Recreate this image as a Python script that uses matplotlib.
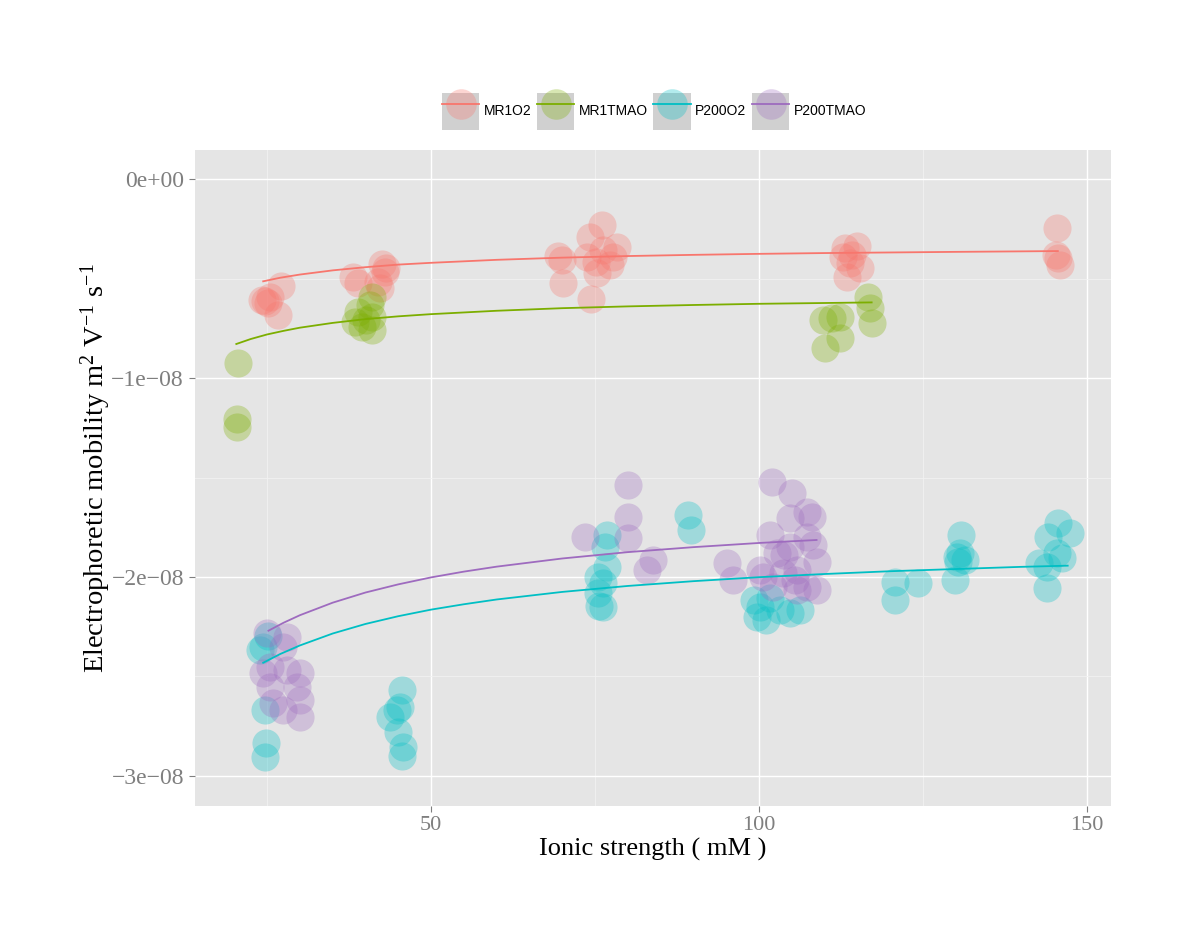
import matplotlib
matplotlib.use("Agg")
import matplotlib.pyplot as plt
from matplotlib.lines import Line2D
from matplotlib.patches import Rectangle
from matplotlib.legend_handler import HandlerTuple
from matplotlib.colors import to_rgba

plt.rcParams['font.family'] = ['Liberation Serif', 'DejaVu Serif']
plt.rcParams['mathtext.fontset'] = 'custom'
plt.rcParams['mathtext.rm'] = 'Liberation Serif'
plt.rcParams['mathtext.it'] = 'Liberation Serif:italic'
plt.rcParams['mathtext.default'] = 'regular'

# y values in units of 1e-08 m2/(V s)
SCALE = 1e-8

groups = ["MR1O2", "MR1TMAO", "P200O2", "P200TMAO"]
colors = ["#F8766D", "#7CAE00", "#00BFC4", "#9E6BBF"]

# points: ionic strength (mM) and mobility
mr1o2_x = [24.7, 25.2, 24.2, 27.1, 26.7, 25.5,
           38.1, 38.9, 42.5, 43.0, 41.9, 43.1, 42.2,
           70.0, 69.4, 76.1, 70.1, 74.4, 74.2, 76.2, 77.7, 75.3, 78.4, 77.3, 73.8, 75.2,
           113.1, 114.9, 113.9, 113.4, 115.4, 112.8, 114.2,
           145.4, 145.6, 145.9, 145.3]
mr1o2_y = [-0.613, -0.623, -0.608, -0.538, -0.683, -0.593,
           -0.492, -0.523, -0.427, -0.467, -0.518, -0.447, -0.548,
           -0.407, -0.387, -0.231, -0.523, -0.603, -0.291, -0.357, -0.392, -0.472, -0.342, -0.432, -0.392, -0.417,
           -0.347, -0.337, -0.422, -0.492, -0.447, -0.392, -0.382,
           -0.246, -0.397, -0.432, -0.382]

mr1tmao_x = [20.5, 20.4, 20.4,
             41.0, 40.7, 38.9, 41.0, 39.5, 41.0, 38.4, 40.1,
             109.8, 112.3, 112.3, 110.1, 116.6, 116.9, 117.2, 111.1]
mr1tmao_y = [-0.926, -1.206, -1.246,
             -0.593, -0.633, -0.668, -0.693, -0.744, -0.759, -0.719, -0.709,
             -0.709, -0.693, -0.799, -0.849, -0.593, -0.648, -0.724, -0.698]

p200o2_x = [24.4, 23.9, 25.2, 24.7, 24.8, 24.7,
            45.6, 44.8, 45.3, 43.8, 45.0, 45.7, 45.6,
            76.8, 76.5, 76.8, 75.5, 76.2, 75.5, 76.2, 75.6,
            89.2, 89.7,
            99.2, 100.2, 99.7, 101.1, 103.2, 104.7, 106.3, 101.7,
            120.7, 120.7, 124.2,
            130.9, 130.2, 130.3, 129.9, 131.4, 130.6,
            145.6, 147.4, 144.1, 145.4, 142.8, 143.9, 143.9, 146.3]
p200o2_y = [-2.350, -2.367, -2.296, -2.668, -2.834, -2.905,
            -2.568, -2.668, -2.653, -2.704, -2.779, -2.854, -2.899,
            -1.789, -1.849, -1.950, -2.000, -2.030, -2.080, -2.151, -2.146,
            -1.688, -1.764,
            -2.116, -2.151, -2.201, -2.216, -2.166, -2.181, -2.166, -2.106,
            -2.025, -2.116, -2.030,
            -1.789, -1.899, -1.925, -2.015, -1.915, -1.879,
            -1.729, -1.779, -1.799, -1.879, -1.930, -1.950, -2.055, -1.905]

p200tmao_x = [25.0, 28.0, 27.4, 25.5, 28.0, 30.0, 25.5, 29.6, 25.9, 30.0, 30.0, 27.4, 24.4,
              73.5, 80.0, 80.0, 80.0, 83.8, 82.9, 95.1, 96.0,
              102.0, 105.0, 107.3, 104.7, 108.1, 101.7, 107.3, 108.2, 104.7, 108.8, 102.7,
              100.6, 103.7, 105.8, 108.8, 105.8, 102.1, 100.2, 107.3, 103.9, 105.5]
p200tmao_y = [-2.281, -2.302, -2.352, -2.452, -2.467, -2.482, -2.553, -2.553, -2.633, -2.618, -2.704, -2.668, -2.482,
              -1.799, -1.538, -1.698, -1.804, -1.915, -1.965, -1.930, -2.015,
              -1.523, -1.578, -1.673, -1.704, -1.698, -1.789, -1.799, -1.839, -1.849, -1.925, -1.879,
              -2.000, -1.980, -1.965, -2.065, -2.065, -2.050, -1.965, -2.050, -1.889, -2.015]

# fitted curves
mr1o2_fit_x = [24.4, 27, 30, 35, 40, 45, 50, 60, 70, 80, 90, 100, 110, 120, 130, 145.6]
mr1o2_fit_y = [-0.514, -0.496, -0.480, -0.459, -0.443, -0.430, -0.421, -0.406, -0.395, -0.387,
               -0.381, -0.376, -0.372, -0.369, -0.366, -0.362]
mr1tmao_fit_x = [20.3, 22.5, 25, 27.5, 30, 35, 40, 45, 50, 60, 70, 80, 90, 100, 110, 117.2]
mr1tmao_fit_y = [-0.829, -0.804, -0.781, -0.763, -0.747, -0.723, -0.704, -0.690, -0.679, -0.662,
                 -0.649, -0.640, -0.633, -0.627, -0.623, -0.620]
p200o2_fit_x = [24.4, 27, 30, 35, 40, 45, 50, 55, 60, 70, 80, 90, 100, 110, 120, 130, 140, 147.1]
p200o2_fit_y = [-2.431, -2.387, -2.344, -2.284, -2.236, -2.197, -2.164, -2.137, -2.113, -2.075,
                -2.045, -2.021, -2.001, -1.985, -1.971, -1.960, -1.949, -1.943]
p200tmao_fit_x = [25.2, 27.5, 30, 35, 40, 45, 50, 55, 60, 70, 80, 90, 100, 108.8]
p200tmao_fit_y = [-2.270, -2.230, -2.192, -2.129, -2.078, -2.037, -2.002, -1.973, -1.948, -1.907,
                  -1.875, -1.850, -1.829, -1.814]

xticks = [50, 100, 150]
xminor = [25, 75, 125]
yticks = [-3, -2, -1, 0]
yminor = [-2.5, -1.5, -0.5]
ytick_labels = ["\u22123e\u221208", "\u22122e\u221208", "\u22121e\u221208", "0e+00"]

pts = [(mr1o2_x, mr1o2_y), (mr1tmao_x, mr1tmao_y), (p200o2_x, p200o2_y), (p200tmao_x, p200tmao_y)]
fits = [(mr1o2_fit_x, mr1o2_fit_y), (mr1tmao_fit_x, mr1tmao_fit_y),
        (p200o2_fit_x, p200o2_fit_y), (p200tmao_fit_x, p200tmao_fit_y)]

fig = plt.figure(figsize=(12, 9.27), dpi=100)
ax = fig.add_axes([0.1625, 0.1305, 0.7633, 0.7077])
ax.set_facecolor("#E5E5E5")
for s in ax.spines.values():
    s.set_visible(False)

for (px, py), c in zip(pts, colors):
    ax.scatter(px, [v * SCALE for v in py], s=410, color=c, alpha=0.3, linewidths=0, zorder=3)
for (fx, fy), c in zip(fits, colors):
    ax.plot(fx, [v * SCALE for v in fy], color=c, lw=1.3, zorder=4)

ax.set_xlim(14.0, 153.7)
ax.set_ylim(-3.151 * SCALE, 0.146 * SCALE)
ax.set_xticks(xticks)
ax.set_xticks(xminor, minor=True)
ax.set_yticks([v * SCALE for v in yticks])
ax.set_yticks([v * SCALE for v in yminor], minor=True)
ax.set_yticklabels(ytick_labels)
ax.grid(True, which="major", color="white", lw=1.0, zorder=0)
ax.grid(True, which="minor", color="#F2F2F2", lw=0.6, zorder=0)
ax.set_axisbelow(True)
ax.tick_params(which="major", colors="#7F7F7F", length=4, width=0.8)
ax.tick_params(axis="x", which="major", labelsize=16)
ax.tick_params(axis="y", which="major", labelsize=17, pad=4)
ax.tick_params(which="minor", length=0)

ax.set_xlabel("Ionic strength ( mM )", fontsize=19, labelpad=2)
ax.set_ylabel("Electrophoretic mobility m$^{2}$ V$^{-1}$ s$^{-1}$", fontsize=20.5)
ax.yaxis.set_label_coords(-0.089, 0.515)

handles = []
for c in colors:
    bg = Rectangle((0, 0), 1, 1, facecolor="#D0D0D0", edgecolor="none")
    ln = Line2D([], [], color=c, lw=1.3, marker="o", markersize=22,
                markerfacecolor=to_rgba(c, 0.3), markeredgecolor=to_rgba(c, 0.0))
    handles.append((bg, ln))
fig.legend(handles, groups, loc="center", bbox_to_anchor=(0.545, 0.880), ncol=4,
           frameon=False, handler_map={tuple: HandlerTuple(ndivide=1, pad=0)},
           handlelength=2.7, handleheight=3.7, handletextpad=0.3, columnspacing=0.4,
           prop={"family": "Liberation Sans", "size": 10})

fig.savefig("out.png", dpi=100, facecolor="white")
